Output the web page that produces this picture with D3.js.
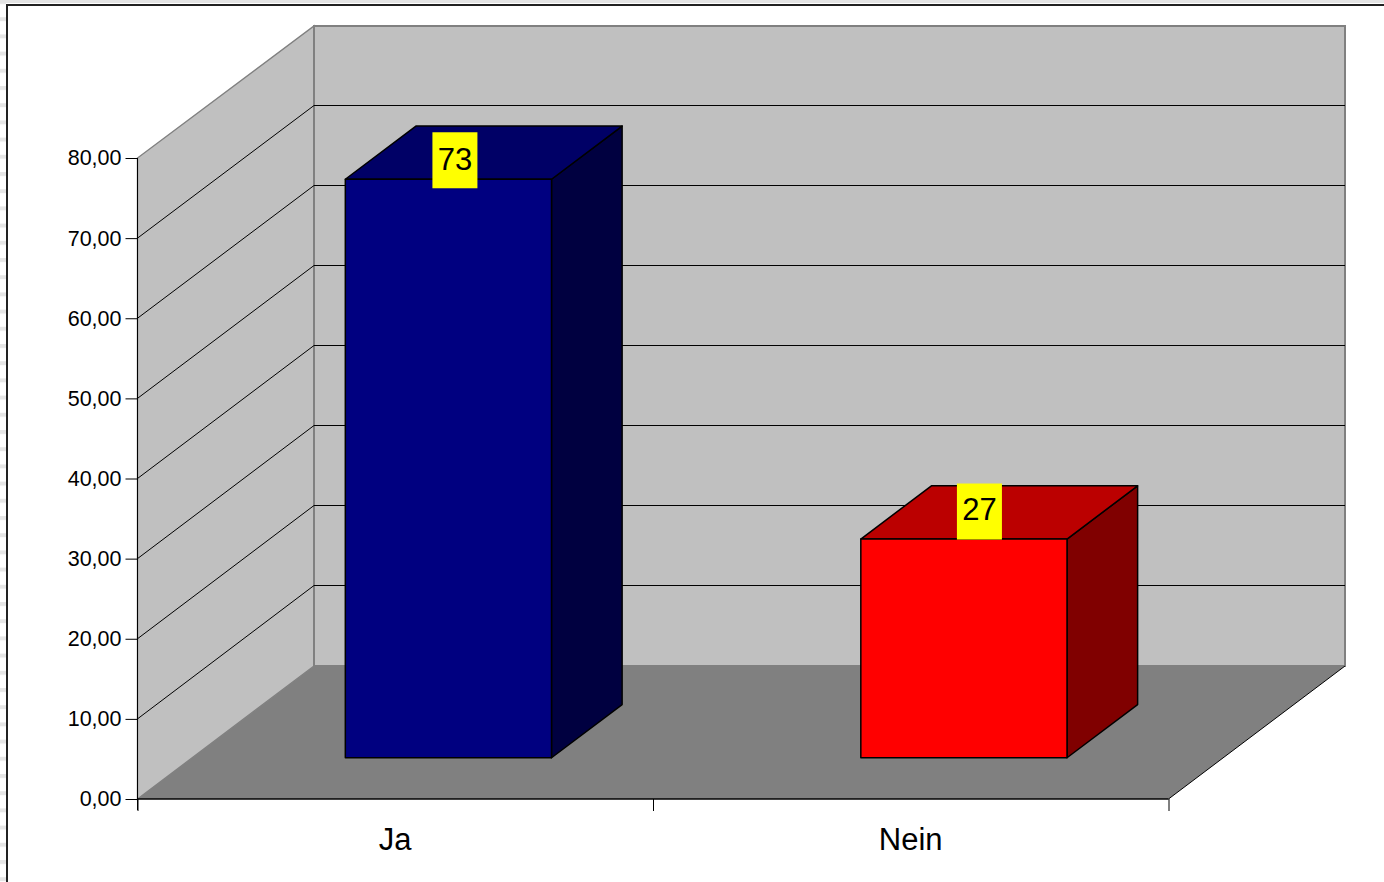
<!DOCTYPE html>
<html>
<head>
<meta charset="utf-8">
<style>
  html, body { margin: 0; padding: 0; background: #fff; overflow: hidden; }
  svg { display: block; }
  text { font-family: "Liberation Sans", Arial, sans-serif; fill: #000; }
</style>
</head>
<body>
<div id="chart"></div>
<script src="https://cdn.jsdelivr.net/npm/d3@7"></script>
<script>
const categories = ['Ja', 'Nein'];
const barValues = [72.2, 27.3];
const barLabels = ['73', '27'];
const yTicks = [0, 10, 20, 30, 40, 50, 60, 70, 80];

const barColors = [
  {front: '#000080', top: '#000066', side: '#000040'},
  {front: '#ff0000', top: '#bb0000', side: '#800000'}
];

const width = 1384;
const height = 882;

const svg = d3.select('#chart').append('svg')
    .attr('width', width)
    .attr('height', height);

// page edge behind the chart frame
const stripes = svg.append('defs').append('pattern')
    .attr('id', 'stripes')
    .attr('width', 6)
    .attr('height', 17.2)
    .attr('patternUnits', 'userSpaceOnUse');
stripes.append('rect')
    .attr('width', 6)
    .attr('height', 4)
    .attr('fill', '#e6e6e6');

svg.append('rect').attr('width', 6).attr('height', height).attr('fill', 'url(#stripes)');
svg.append('rect').attr('width', width).attr('height', 3).attr('fill', '#e4e4e4');
svg.append('path')
    .attr('d', `M7,${height}V5H${width}`)
    .attr('fill', 'none')
    .attr('stroke', '#222')
    .attr('stroke-width', 2);

const x = d3.scaleBand()
    .domain(categories)
    .range([137.5, 1168.5])
    .paddingInner(0.6)
    .paddingOuter(0.3)
    .align(0.495);

const y = d3.scaleLinear()
    .domain([0, 80])
    .range([799, 158]);

// depth of the box: 0 = front edge, 1 = back wall
const depthX = d3.scaleLinear().domain([0, 1]).range([0, 176.5]);
const depthY = d3.scaleLinear().domain([0, 1]).range([0, -133]);

const barStart = 0.31;
const barDepth = 0.4;

const x0 = x.range()[0];
const x1 = x.range()[1];
const poly = pts => 'M' + pts.map(p => p.join(',')).join('L') + 'Z';
const snap = v => Math.floor(v) + 0.5;

const g = svg.append('g');

// left wall
g.append('path')
    .attr('d', poly([
      [x0, y(0)], [x0, y(80)],
      [x0 + depthX(1), snap(y(80) + depthY(1)) + 0.5], [x0 + depthX(1), y(0) + depthY(1)]
    ]))
    .attr('fill', '#c0c0c0')
    .attr('stroke', '#808080')
    .attr('stroke-width', 1.4);

// back wall
g.append('path')
    .attr('d', poly([
      [x0 + depthX(1), y(0) + depthY(1)], [x0 + depthX(1), snap(y(80) + depthY(1)) + 0.5],
      [x1 + depthX(1), snap(y(80) + depthY(1)) + 0.5], [x1 + depthX(1), y(0) + depthY(1)]
    ]))
    .attr('fill', '#c0c0c0')
    .attr('stroke', '#808080')
    .attr('stroke-width', 2);

// gridlines
g.selectAll('.grid')
    .data(yTicks.filter(d => d > 0 && d < 80))
    .join('path')
      .attr('class', 'grid')
      .attr('d', d => `M${x0},${y(d)}L${x0 + depthX(1)},${snap(y(d) + depthY(1))}H${x1 + depthX(1)}`)
      .attr('fill', 'none')
      .attr('stroke', '#000')
      .attr('stroke-width', 1);

// floor
g.append('path')
    .attr('d', poly([
      [x0, y(0)], [x0 + depthX(1), y(0) + depthY(1)],
      [x1 + depthX(1), y(0) + depthY(1)], [x1, y(0)]
    ]))
    .attr('fill', '#808080');

g.append('path')
    .attr('d', `M${x1},${y(0)}L${x1 + depthX(1)},${y(0) + depthY(1)}`)
    .attr('stroke', '#000')
    .attr('stroke-width', 1);

// bars
const bars = g.selectAll('.bar')
    .data(categories.map((c, i) => ({c, v: barValues[i], color: barColors[i]})))
    .join('g')
      .attr('class', 'bar')
      .attr('stroke', '#000')
      .attr('stroke-width', 1.5)
      .attr('stroke-linejoin', 'round');

const bl = d => x(d.c) + depthX(barStart);
const br = d => bl(d) + x.bandwidth();
const bb = d => y(0) + depthY(barStart);
const bt = d => bb(d) - (y(0) - y(d.v));
const dx = depthX(barDepth);
const dy = depthY(barDepth);

bars.append('path')
    .attr('d', d => poly([[br(d), bb(d)], [br(d), bt(d)], [br(d) + dx, bt(d) + dy], [br(d) + dx, bb(d) + dy]]))
    .attr('fill', d => d.color.side);

bars.append('path')
    .attr('d', d => poly([[bl(d), bt(d)], [bl(d) + dx, bt(d) + dy], [br(d) + dx, bt(d) + dy], [br(d), bt(d)]]))
    .attr('fill', d => d.color.top);

bars.append('rect')
    .attr('x', bl)
    .attr('y', bt)
    .attr('width', x.bandwidth())
    .attr('height', d => bb(d) - bt(d))
    .attr('fill', d => d.color.front);

// data labels, they sit a bit off the bar centre in the original
const labelShift = {Ja: [6.5, -19], Nein: [15.5, -27.5]};
const labelBaseline = {Ja: 10, Nein: 8.5};

const labels = g.selectAll('.label')
    .data(categories.map((c, i) => ({c, v: barValues[i], text: barLabels[i]})))
    .join('g')
      .attr('class', 'label')
      .attr('transform', d => `translate(${bl(d) + x.bandwidth() / 2 + labelShift[d.c][0]},${bt(d) + labelShift[d.c][1]})`);

labels.append('rect')
    .attr('x', -22.5)
    .attr('y', -28)
    .attr('width', 45)
    .attr('height', 56)
    .attr('fill', '#ffff00');

labels.append('text')
    .attr('y', d => labelBaseline[d.c])
    .attr('text-anchor', 'middle')
    .attr('font-size', 31)
    .text(d => d.text);

// value axis
const yAxis = d3.axisLeft(y)
    .tickValues(yTicks)
    .tickSize(12)
    .tickPadding(4)
    .tickFormat(d => d3.format('.2f')(d).replace('.', ','));

const yG = svg.append('g')
    .attr('transform', `translate(${x0},0)`)
    .call(yAxis);
yG.select('.domain').remove();
yG.selectAll('.tick line').attr('stroke', '#000').attr('stroke-width', 1);
yG.selectAll('.tick text')
    .attr('font-family', '"Liberation Sans", Arial, sans-serif')
    .attr('font-size', 21.5);

// axis lines drawn over the walls
svg.append('path')
    .attr('d', `M${x0},${y(80)}V${y(0) + 11}`)
    .attr('stroke', '#000')
    .attr('stroke-width', 1);

svg.append('path')
    .attr('d', `M${x0},${y(0)}H${x1}`)
    .attr('stroke', '#000')
    .attr('stroke-width', 1.5);

// category axis, ticks on the band edges
const edges = d3.scaleLinear().domain([0, categories.length]).range([x0, x1]);
const xAxis = d3.axisBottom(edges)
    .tickValues(d3.range(categories.length + 1))
    .tickSize(12)
    .tickFormat('');

const xG = svg.append('g')
    .attr('transform', `translate(0,${y(0)})`)
    .call(xAxis);
xG.select('.domain').remove();
xG.selectAll('.tick line').attr('stroke', '#000').attr('stroke-width', 1);

svg.selectAll('.cat')
    .data(categories)
    .join('text')
      .attr('class', 'cat')
      .attr('x', d => x(d) + x.bandwidth() / 2 + 1.5)
      .attr('y', 850)
      .attr('text-anchor', 'middle')
      .attr('font-size', 31)
      .text(d => d);
</script>
</body>
</html>
